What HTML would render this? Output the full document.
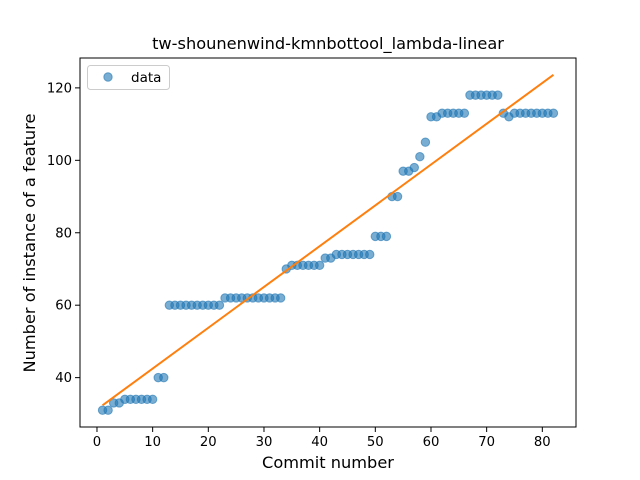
<!DOCTYPE html>
<html><head><meta charset="utf-8"><style>
body{margin:0;background:#fff}
svg{display:block;font-family:"DejaVu Sans","Liberation Sans",sans-serif}
</style></head><body>
<svg id="chart" width="640" height="480" viewBox="0 0 640 480" xmlns="http://www.w3.org/2000/svg">
<rect width="640" height="480" fill="#fff"/>
<text x="328" y="49" text-anchor="middle" font-size="16.2">tw-shounenwind-kmnbottool_lambda-linear</text>
<text x="328" y="468" text-anchor="middle" font-size="16.2">Commit number</text>
<text transform="translate(35,243) rotate(-90)" text-anchor="middle" font-size="16.2">Number of instance of a feature</text>
<g id="ticks"></g>
<g id="marks"></g>
<rect x="80" y="58" width="496" height="369" fill="none" stroke="#000" stroke-width="1"/>
<g>
<rect x="87.5" y="65.5" width="82" height="24" rx="3" fill="#fff" fill-opacity="0.8" stroke="#ccc"/>
<circle cx="108" cy="77" r="4.2" fill="#1f77b4" fill-opacity="0.6" stroke="#1f77b4" stroke-opacity="0.6"/>
<text x="131" y="82" font-size="13.5">data</text>
</g>
</svg>
<script>
const xs = [];
for (let i = 1; i <= 82; i++) xs.push(i);
const ys = [31,31,33,33,34,34,34,34,34,34,40,40,
60,60,60,60,60,60,60,60,60,60,
62,62,62,62,62,62,62,62,62,62,62,
70,71,71,71,71,71,71,73,73,74,74,74,74,74,74,74,
79,79,79,90,90,97,97,98,101,105,112,112,
113,113,113,113,113,118,118,118,118,118,118,113,112,113,113,113,113,113,113,113,113];
const xTicks = [0,10,20,30,40,50,60,70,80];
const yTicks = [40,60,80,100,120];

const NS = "http://www.w3.org/2000/svg";
const n = xs.length;
let mx = xs.reduce((a,b)=>a+b,0)/n, my = ys.reduce((a,b)=>a+b,0)/n;
let sxy=0,sxx=0;
for(let i=0;i<n;i++){sxy+=(xs[i]-mx)*(ys[i]-my);sxx+=(xs[i]-mx)**2;}
const slope=sxy/sxx, icpt=my-slope*mx;
const xmin=Math.min(...xs), xmax=Math.max(...xs);
const f0=icpt+slope*xmin, f1=icpt+slope*xmax;
const ylo=Math.min(...ys,f0,f1), yhi=Math.max(...ys,f0,f1);
const xm=(xmax-xmin)*0.05, ym=(yhi-ylo)*0.05;
const X0=xmin-xm, X1=xmax+xm, Y0=ylo-ym, Y1=yhi+ym;
const L=80,R=576,T=58,B=427;
const sx=v=>L+(v-X0)/(X1-X0)*(R-L);
const sy=v=>B-(v-Y0)/(Y1-Y0)*(B-T);

const ticks=document.getElementById('ticks');
xTicks.forEach(t=>{
  const l=document.createElementNS(NS,'line');
  l.setAttribute('x1',sx(t));l.setAttribute('x2',sx(t));l.setAttribute('y1',B);l.setAttribute('y2',B+5);l.setAttribute('stroke','#000');
  
  
  ticks.appendChild(l);
  const tx=document.createElementNS(NS,'text');
  tx.setAttribute('x',sx(t));tx.setAttribute('y',B+19);tx.setAttribute('text-anchor','middle');tx.setAttribute('font-size','13.2');
  tx.textContent=t;
  
  
  ticks.appendChild(tx);
});
yTicks.forEach(t=>{
  const l=document.createElementNS(NS,'line');
  l.setAttribute('x1',L-5);l.setAttribute('x2',L);l.setAttribute('y1',sy(t));l.setAttribute('y2',sy(t));l.setAttribute('stroke','#000');
  
  
  ticks.appendChild(l);
  const tx=document.createElementNS(NS,'text');
  tx.setAttribute('x',L-8);tx.setAttribute('y',sy(t)+4.5);tx.setAttribute('text-anchor','end');tx.setAttribute('font-size','13.2');
  tx.textContent=t;
  
  
  ticks.appendChild(tx);
});
const marks=document.getElementById('marks');
for(let i=0;i<n;i++){
  const c=document.createElementNS(NS,'circle');
  c.setAttribute('cx',sx(xs[i]));c.setAttribute('cy',sy(ys[i]));c.setAttribute('r',4.2);
  c.setAttribute('fill','#1f77b4');c.setAttribute('fill-opacity','0.6');
  c.setAttribute('stroke','#1f77b4');c.setAttribute('stroke-opacity','0.6');
  
  
  marks.appendChild(c);
}
const ln=document.createElementNS(NS,'line');
ln.setAttribute('x1',sx(xmin));ln.setAttribute('y1',sy(f0));ln.setAttribute('x2',sx(xmax));ln.setAttribute('y2',sy(f1));
ln.setAttribute('stroke','#ff7f0e');ln.setAttribute('stroke-width','2');


marks.appendChild(ln);
</script>
</body></html>
